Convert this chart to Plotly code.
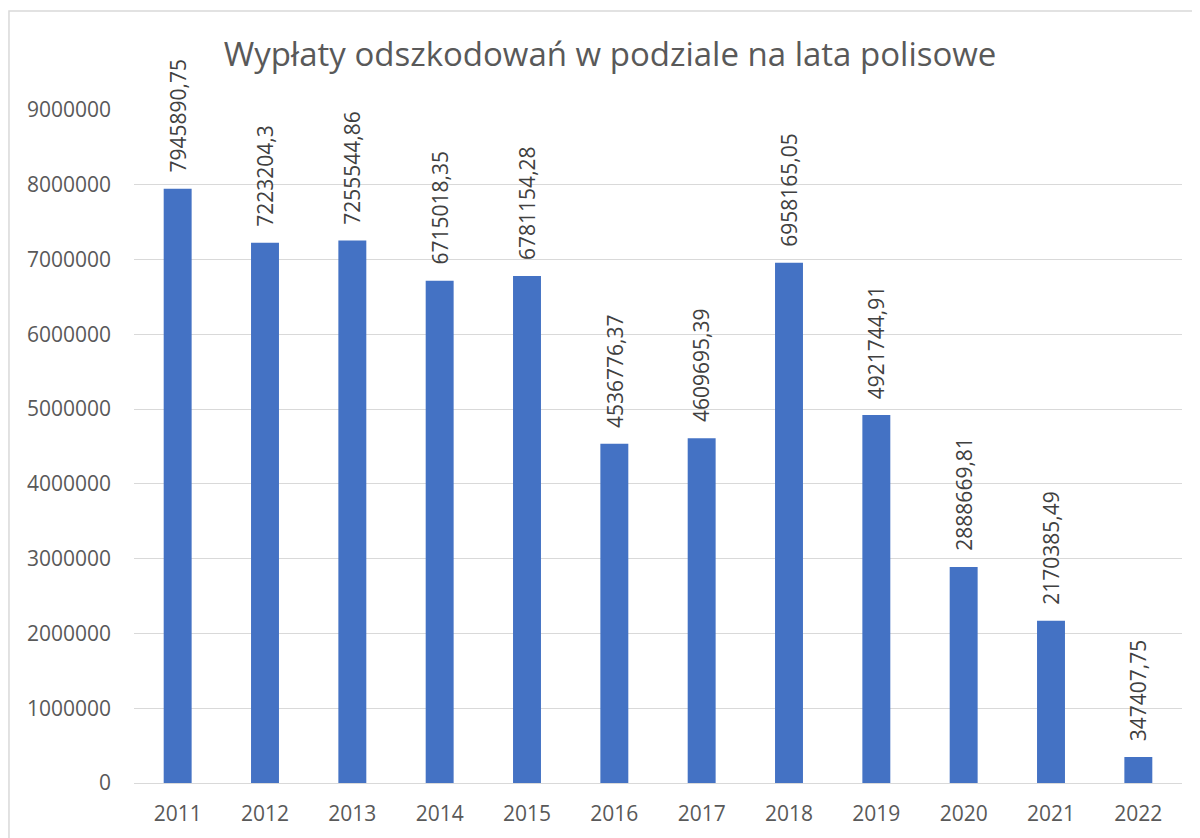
import plotly.graph_objects as go

# lata polisowe i wypłaty odszkodowań
years = ["2011", "2012", "2013", "2014", "2015", "2016",
         "2017", "2018", "2019", "2020", "2021", "2022"]
payouts = [7945890.75, 7223204.3, 7255544.86, 6715018.35, 6781154.28, 4536776.37,
           4609695.39, 6958165.05, 4921744.91, 2888669.81, 2170385.49, 347407.75]
y_ticks = [0, 1000000, 2000000, 3000000, 4000000, 5000000,
           6000000, 7000000, 8000000, 9000000]

FONT = "Open Sans"
GREY = "#595959"

fig = go.Figure()
fig.add_trace(go.Bar(
    x=years,
    y=payouts,
    marker=dict(color="#4472C4", line=dict(width=0)),
    hoverinfo="x+y",
))

# etykiety danych - pionowo nad słupkami, przecinek dziesiętny
# (x jako indeks kategorii, bo "2011" byłoby brane za indeks 2011)
for i, val in enumerate(payouts):
    fig.add_annotation(
        x=i, y=val,
        text=str(val).replace(".", ","),
        textangle=-90,
        showarrow=False,
        yanchor="bottom",
        yshift=14,
        font=dict(family=FONT, size=21, color="#404040"),
    )

# ramka obszaru wykresu (wychodzi poza kadr z prawej i z dołu)
fig.add_shape(
    type="rect", xref="paper", yref="paper",
    x0=-0.1193, x1=1.2, y0=-0.3, y1=1.147,
    line=dict(color="#d9d9d9", width=1.5),
    fillcolor="rgba(0,0,0,0)",
    layer="below",
)

# strona html ma 8px marginesu body, stąd przesunięte marginesy
fig.update_layout(
    width=1200,
    height=838,
    margin=dict(l=126, r=26, t=102, b=63),
    paper_bgcolor="white",
    plot_bgcolor="white",
    showlegend=False,
    bargap=0.68,
    title=dict(
        text="Wypłaty odszkodowań w podziale na lata polisowe",
        x=0.5017, xanchor="center",
        y=0.944, yanchor="middle",
        font=dict(family=FONT, size=33, color=GREY),
    ),
    font=dict(family=FONT, color=GREY),
)

fig.update_xaxes(
    type="category",
    range=[-0.5, len(years) - 0.5],
    showgrid=False,
    showline=False,
    ticks="",
    ticklabelstandoff=16,
    tickfont=dict(family=FONT, size=21, color=GREY),
)

fig.update_yaxes(
    range=[0, 9000000],
    tickvals=y_ticks,
    ticktext=[str(v) for v in y_ticks],
    showgrid=True,
    gridcolor="#d9d9d9",
    gridwidth=1.2,
    zeroline=True,
    zerolinecolor="#d9d9d9",
    zerolinewidth=1.2,
    showline=False,
    ticks="",
    ticklabelstandoff=22,
    tickfont=dict(family=FONT, size=21, color=GREY),
)

fig.write_html("out.html")
